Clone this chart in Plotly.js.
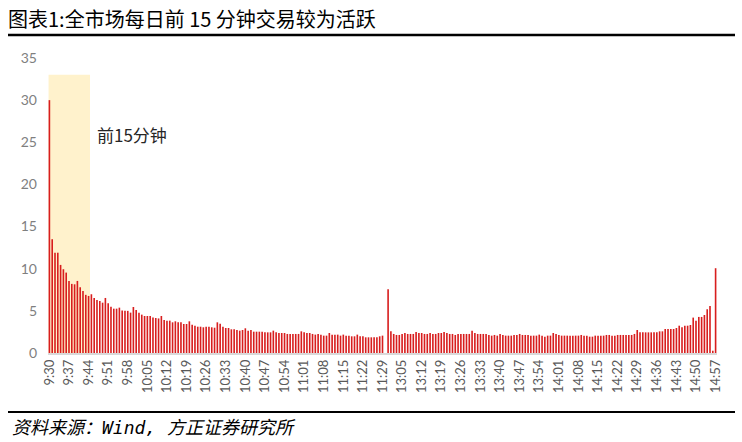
<!DOCTYPE html>
<html>
<head>
<meta charset="utf-8">
<script src="https://cdn.plot.ly/plotly-3.0.1.min.js"></script>
<style>
  html, body { margin: 0; padding: 0; background: #ffffff; }
  #chart { width: 742px; height: 442px; }
</style>
</head>
<body>
<div id="chart"></div>
<script>
// Trading sessions (category labels are built from these, minute by minute)
const sessions = [["9:30", "11:30"], ["13:00", "14:57"]];

// Share of daily volume per minute (%), morning session 9:30 - 11:30
const morningValues = [
  30, 13.5, 11.9, 11.9, 10.45, 9.94, 9.54, 8.55, 8.2, 8.15,
  8.55, 7.8, 7.36, 6.9, 6.77, 6.97, 6.53, 6.3, 6.17, 5.97,
  6.53, 5.9, 5.5, 5.26, 5.26, 5.38, 5.03, 5.0, 5.0, 4.79,
  5.46, 5.1, 4.79, 4.55, 4.39, 4.39, 4.39, 4.2, 4.15, 4.1,
  4.39, 3.92, 3.84, 3.84, 3.64, 3.76, 3.64, 3.64, 3.44, 3.44,
  3.76, 3.36, 3.24, 3.12, 3.12, 3.05, 3.12, 3.12, 3.05, 3.0,
  3.64, 3.48, 3.12, 2.97, 2.97, 2.81, 2.81, 2.73, 2.65, 2.73,
  2.93, 2.65, 2.73, 2.53, 2.53, 2.53, 2.53, 2.45, 2.45, 2.45,
  2.65, 2.45, 2.37, 2.37, 2.37, 2.26, 2.26, 2.26, 2.26, 2.26,
  2.57, 2.45, 2.37, 2.37, 2.26, 2.18, 2.26, 2.18, 2.06, 2.06,
  2.37, 2.18, 2.18, 2.18, 2.06, 2.18, 2.06, 2.06, 1.98, 1.98,
  2.18, 1.98, 1.98, 1.86, 1.86, 1.86, 1.86, 1.86, 1.98, 2.06,
  0
];

// Afternoon session 13:00 - 14:57
const afternoonValues = [
  7.56, 2.57, 2.26, 2.14, 2.14, 2.26, 2.37, 2.26, 2.26, 2.26,
  2.49, 2.37, 2.37, 2.26, 2.26, 2.37, 2.26, 2.26, 2.37, 2.37,
  2.49, 2.37, 2.26, 2.26, 2.14, 2.26, 2.26, 2.26, 2.26, 2.26,
  2.65, 2.37, 2.26, 2.26, 2.26, 2.26, 2.14, 2.06, 2.14, 2.06,
  2.26, 2.14, 2.06, 2.06, 2.06, 2.14, 2.14, 2.26, 2.14, 2.14,
  2.14, 2.06, 2.06, 2.06, 2.18, 2.06, 1.94, 2.06, 2.06, 2.37,
  2.26, 2.14, 2.06, 2.06, 2.06, 2.06, 2.06, 2.06, 2.06, 2.14,
  2.06, 2.06, 1.94, 1.94, 2.06, 2.06, 2.06, 2.06, 2.14, 2.14,
  2.06, 2.06, 2.14, 2.14, 2.14, 2.14, 2.14, 2.14, 2.26, 2.73,
  2.45, 2.45, 2.45, 2.45, 2.45, 2.45, 2.45, 2.57, 2.57, 2.85,
  2.85, 2.85, 2.85, 2.97, 3.24, 3.05, 3.24, 3.24, 3.32, 4.2,
  3.84, 4.28, 4.28, 4.51, 5.19, 5.58, 0.27, 10.06
];

const yTickValues = [0, 5, 10, 15, 20, 25, 30, 35];
const tickEvery = 7;
const highlightLabel = "前15分钟";
const titleText = "图表1:全市场每日前 15 分钟交易较为活跃";
const sourceText = "资料来源：Wind, 方正证券研究所";

// ---- build category labels ----
function toMin(s) { const p = s.split(":"); return (+p[0]) * 60 + (+p[1]); }
function toLabel(m) { const h = Math.floor(m / 60), mm = m % 60; return h + ":" + (mm < 10 ? "0" : "") + mm; }
const minutes = [];
sessions.forEach(function (se) {
  for (let m = toMin(se[0]); m <= toMin(se[1]); m++) minutes.push(toLabel(m));
});
const values = morningValues.concat(afternoonValues);
const tickLabels = minutes.filter(function (_, i) { return i % tickEvery === 0; });

// ---- geometry ----
const W = 742, H = 442;
const M = { l: 48, r: 25, t: 58, b: 89 };
const pw = W - M.l - M.r, ph = H - M.t - M.b;
const px = function (x) { return (x - M.l) / pw; };
const py = function (y) { return (H - M.b - y) / ph; };

const trace = {
  type: "bar",
  x: minutes,
  y: values,
  marker: { color: "#d81e1e", line: { width: 0 } },
  hoverinfo: "x+y"
};

const layout = {
  width: W, height: H,
  margin: M,
  paper_bgcolor: "#ffffff",
  plot_bgcolor: "#ffffff",
  showlegend: false,
  bargap: 0.42,
  font: { family: "Lato, 'Noto Sans CJK SC', sans-serif" },
  title: {
    text: titleText,
    font: { family: "'Noto Sans CJK SC', sans-serif", size: 20, color: "#000000" },
    x: 8 / W, xanchor: "left", xref: "container",
    y: 1 - 20 / H, yanchor: "middle", yref: "container"
  },
  xaxis: {
    type: "category",
    tickmode: "array",
    tickvals: tickLabels,
    ticktext: tickLabels,
    tickangle: -90,
    tickfont: { family: "Lato, sans-serif", size: 13, color: "#595959" },
    showgrid: false,
    zeroline: false,
    showline: true,
    linecolor: "#d9d9d9",
    linewidth: 1.5,
    ticks: "",
    range: [-0.5, minutes.length - 0.5],
    fixedrange: true
  },
  yaxis: {
    range: [0, 35],
    tickmode: "array",
    tickvals: yTickValues,
    tickfont: { family: "Lato, sans-serif", size: 14, color: "#7f7f7f" },
    showgrid: false,
    zeroline: false,
    showline: false,
    ticks: "",
    ticklabelstandoff: 10,
    fixedrange: true
  },
  shapes: [
    { type: "rect", layer: "below", xref: "x", yref: "y",
      x0: -0.3, x1: 14.5, y0: 0, y1: 33,
      fillcolor: "#fff2cc", line: { width: 0 } },
    { type: "line", xref: "paper", yref: "paper",
      x0: px(8), x1: px(735), y0: py(35), y1: py(35),
      line: { color: "#000000", width: 2.5 } },
    { type: "line", xref: "paper", yref: "paper",
      x0: px(8), x1: px(735), y0: py(412), y1: py(412),
      line: { color: "#000000", width: 2 } }
  ],
  annotations: [
    { text: highlightLabel, xref: "x", yref: "y", x: 16.2, y: 25.9,
      xanchor: "left", yanchor: "middle", showarrow: false,
      font: { family: "'Noto Sans CJK SC', sans-serif", size: 17, color: "#262626" } },
    { text: "<i>" + sourceText + "</i>", xref: "paper", yref: "paper",
      x: px(10), y: py(427), xanchor: "left", yanchor: "middle", showarrow: false,
      font: { family: "'DejaVu Sans Mono', 'Noto Sans CJK SC', monospace", size: 18, color: "#000000" } }
  ]
};

Plotly.newPlot("chart", [trace], layout, { displayModeBar: false, staticPlot: true });
</script>
</body>
</html>
